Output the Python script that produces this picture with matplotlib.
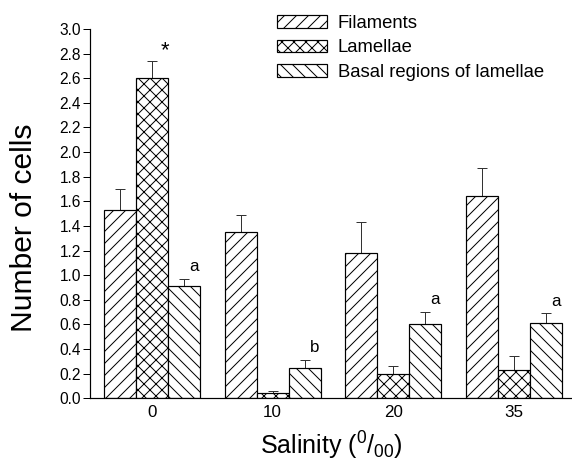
import matplotlib
matplotlib.use("Agg")
import matplotlib.pyplot as plt
import numpy as np

plt.rcParams['font.family'] = ['Liberation Sans', 'DejaVu Sans']
plt.rcParams['mathtext.fontset'] = 'custom'
plt.rcParams['mathtext.rm'] = 'Liberation Sans'
plt.rcParams['mathtext.it'] = 'Liberation Sans'
plt.rcParams['mathtext.default'] = 'regular'
plt.rcParams['hatch.linewidth'] = 1.0

categories = ['0', '10', '20', '35']
series_names = ['Filaments', 'Lamellae', 'Basal regions of lamellae']
filaments = [1.53, 1.35, 1.18, 1.64]
filaments_err = [0.17, 0.14, 0.25, 0.23]
lamellae = [2.60, 0.04, 0.20, 0.23]
lamellae_err = [0.14, 0.02, 0.06, 0.11]
basal = [0.91, 0.25, 0.60, 0.61]
basal_err = [0.06, 0.06, 0.10, 0.08]
# significance marks: (series index, category index, label)
marks = [(1, 0, '*'), (2, 0, 'a'), (2, 1, 'b'), (2, 2, 'a'), (2, 3, 'a')]
yticks = [0.0, 0.2, 0.4, 0.6, 0.8, 1.0, 1.2, 1.4, 1.6, 1.8, 2.0, 2.2, 2.4, 2.6, 2.8, 3.0]

values = [filaments, lamellae, basal]
errors = [filaments_err, lamellae_err, basal_err]
hatches = ['//', 'xx', '\\\\']

fig = plt.figure(figsize=(572 / 72, 463 / 72), dpi=72)
ax = fig.add_axes([0.157, 0.1397, 0.843, 0.7977])

x = np.arange(len(categories))
w = 0.265
offsets = [-w, 0, w]
for vals, errs, h, off, name in zip(values, errors, hatches, offsets, series_names):
    ax.bar(x + off, vals, width=w, facecolor='white', edgecolor='black',
           linewidth=1.2, hatch=h, label=name, zorder=2)
    ax.errorbar(x + off, vals, yerr=[np.zeros(len(errs)), errs], fmt='none',
                ecolor='#333333', elinewidth=1.0, capsize=5, capthick=1.0, zorder=1)

for si, ci, lab in marks:
    ytop = values[si][ci] + errors[si][ci]
    if lab == '*':
        ax.text(ci + offsets[si] + 0.105, ytop + 0.08, lab, ha='center', va='center',
                fontsize=22)
    else:
        ax.text(ci + offsets[si] + 0.08, ytop + 0.1, lab, ha='center', va='center',
                fontsize=17)

ax.set_xlim(-0.514, 3.48)
ax.set_ylim(0, 3.0)
ax.set_yticks(yticks)
ax.set_yticklabels([f'{t:.1f}' for t in yticks])
ax.set_xticks(x)
ax.set_xticklabels(categories)
ax.tick_params(axis='y', direction='out', length=7, width=1, labelsize=15.5, pad=2)
ax.tick_params(axis='x', length=0, labelsize=17, pad=7)
for s in ['top', 'right']:
    ax.spines[s].set_visible(False)
for s in ['left', 'bottom']:
    ax.spines[s].set_linewidth(1.2)

ax.set_ylabel('Number of cells', fontsize=30, va='center')
ax.yaxis.set_label_coords(-0.137, 0.4625)
ax.set_xlabel('Salinity ($^{0}$/$_{00}$)', fontsize=25, labelpad=9)

leg = ax.legend(loc='upper left', bbox_to_anchor=(273 / 572, 1 - 11 / 463),
                bbox_transform=fig.transFigure, frameon=False, fontsize=18.5,
                handlelength=2.7, handleheight=0.7, handletextpad=0.6,
                labelspacing=0.42, borderpad=0.2, borderaxespad=0)

fig.savefig('out.png', dpi=72)
